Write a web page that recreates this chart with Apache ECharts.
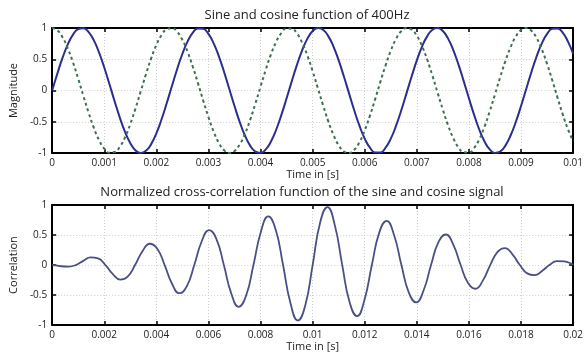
<!DOCTYPE html>
<html>
<head>
<meta charset="utf-8">
<script src="https://cdn.jsdelivr.net/npm/echarts@6/dist/echarts.min.js"></script>
<style>
  html, body { margin: 0; padding: 0; background: #fff; }
  #chart { width: 586px; height: 353px; }
</style>
</head>
<body>
<div id="chart"></div>
<script>
// time step of the sampled signals in the upper plot (s)
const sampleStep = 0.0001;

// sine signal
const sineValues = [
  0, 0.273, 0.525, 0.737, 0.894, 0.982, 0.996, 0.934, 0.802, 0.608,
  0.368, 0.100, -0.175, -0.437, -0.666, -0.844, -0.959, -1.000, -0.965, -0.858,
  -0.685, -0.460, -0.200, 0.075, 0.345, 0.588, 0.786, 0.925, 0.994, 0.987,
  0.905, 0.754, 0.546, 0.297, 0.025, -0.249, -0.504, -0.720, -0.882, -0.977,
  -0.998, -0.943, -0.816, -0.628, -0.391, -0.125, 0.150, 0.414, 0.647, 0.830,
  0.951, 0.999, 0.972, 0.870, 0.703, 0.482, 0.224, -0.050, -0.321, -0.567,
  -0.771, -0.915, -0.990, -0.990, -0.915, -0.771, -0.567, -0.321, -0.050, 0.224,
  0.482, 0.703, 0.870, 0.972, 0.999, 0.951, 0.830, 0.647, 0.414, 0.150,
  -0.125, -0.391, -0.628, -0.816, -0.943, -0.998, -0.977, -0.882, -0.720, -0.504,
  -0.249, 0.025, 0.297, 0.546, 0.754, 0.905, 0.987, 0.994, 0.925, 0.786,
  0.588
];

// cosine signal
const cosineValues = [
  1.000, 0.962, 0.851, 0.675, 0.448, 0.187, -0.088, -0.356, -0.598, -0.794,
  -0.930, -0.995, -0.985, -0.899, -0.746, -0.536, -0.285, -0.013, 0.261, 0.514,
  0.729, 0.888, 0.980, 0.997, 0.939, 0.809, 0.618, 0.380, 0.113, -0.163,
  -0.426, -0.657, -0.838, -0.955, -1.000, -0.969, -0.864, -0.694, -0.471, -0.212,
  0.063, 0.333, 0.578, 0.779, 0.920, 0.992, 0.989, 0.910, 0.762, 0.557,
  0.309, 0.038, -0.236, -0.493, -0.711, -0.876, -0.975, -0.999, -0.947, -0.824,
  -0.637, -0.403, -0.138, 0.138, 0.403, 0.637, 0.824, 0.947, 0.999, 0.975,
  0.876, 0.711, 0.493, 0.236, -0.038, -0.309, -0.557, -0.762, -0.910, -0.989,
  -0.992, -0.920, -0.779, -0.578, -0.333, -0.063, 0.212, 0.471, 0.694, 0.864,
  0.969, 1.000, 0.955, 0.838, 0.657, 0.426, 0.163, -0.113, -0.380, -0.618,
  -0.809
];

// cross-correlation
const corrTime = [
  0, 0.000057, 0.000341, 0.000625, 0.000909, 0.001193, 0.001477, 0.001761, 0.002045, 0.00233,
  0.002614, 0.002898, 0.003182, 0.003466, 0.00375, 0.004034, 0.004318, 0.004602, 0.004886, 0.00517,
  0.005455, 0.005739, 0.006023, 0.006307, 0.006591, 0.006875, 0.007159, 0.007443, 0.007727, 0.008011,
  0.008295, 0.00858, 0.008864, 0.009148, 0.009432, 0.009716, 0.01, 0.010284, 0.010568, 0.010852,
  0.011136, 0.01142, 0.011705, 0.011989, 0.012273, 0.012557, 0.012841, 0.013125, 0.013409, 0.013693,
  0.013977, 0.014261, 0.014545, 0.01483, 0.015114, 0.015398, 0.015682, 0.015966, 0.01625, 0.016534,
  0.016818, 0.017102, 0.017386, 0.01767, 0.017955, 0.018239, 0.018523, 0.018807, 0.019091, 0.019375,
  0.019659, 0.019943, 0.02
];
const corrValue = [
  0.01, 0.0, -0.02, -0.025, 0.0, 0.07, 0.128, 0.11, 0.0, -0.151,
  -0.242, -0.191, 0.0, 0.231, 0.355, 0.271, 0.0, -0.311, -0.469, -0.351,
  0.0, 0.392, 0.582, 0.432, 0.0, -0.472, -0.696, -0.512, 0.0, 0.552,
  0.809, 0.592, 0.0, -0.633, -0.923, -0.673, 0.0, 0.701, 0.963, 0.661,
  0.0, -0.621, -0.849, -0.58, 0.0, 0.54, 0.736, 0.5, 0.0, -0.46,
  -0.622, -0.42, 0.0, 0.38, 0.509, 0.34, 0.0, -0.299, -0.395, -0.259,
  0.0, 0.219, 0.282, 0.179, 0.0, -0.139, -0.168, -0.098, 0.0, 0.065,
  0.06, 0.02, 0.0
];

const yTicks = { min: -1, max: 1, interval: 0.5 };

const sineData = sineValues.map((v, i) => [i * sampleStep, v]);
const cosineData = cosineValues.map((v, i) => [i * sampleStep, v]);
const corrData = corrTime.map((t, i) => [t, corrValue[i]]);

const font = 'Open Sans';
const frameLine = { show: true, onZero: false, lineStyle: { color: '#000', width: 2 } };
const innerTick = { show: true, inside: true, length: 4, lineStyle: { color: '#000', width: 1.5 } };
const dotted = { show: true, lineStyle: { type: [1, 2], color: '#cfcfcf', width: 1 } };
const tickLabel = { color: '#222', fontSize: 10, fontFamily: font, margin: 5 };
const nameText = { color: '#222', fontSize: 11, fontFamily: font };

function bottomAxis(grid, max, interval) {
  return {
    gridIndex: grid, type: 'value', min: 0, max: max, interval: interval,
    axisLine: frameLine, axisTick: innerTick, splitLine: dotted,
    axisLabel: tickLabel,
    name: 'Time in [s]', nameLocation: 'middle', nameGap: 13, nameTextStyle: nameText
  };
}
function topAxis(grid, max, interval) {
  return {
    gridIndex: grid, type: 'value', position: 'top', min: 0, max: max, interval: interval,
    axisLine: frameLine, axisTick: innerTick, splitLine: { show: false },
    axisLabel: { show: false }
  };
}
function leftAxis(grid, name) {
  return {
    gridIndex: grid, type: 'value', min: yTicks.min, max: yTicks.max, interval: yTicks.interval,
    axisLine: frameLine, axisTick: innerTick, splitLine: dotted,
    axisLabel: tickLabel,
    name: name, nameLocation: 'middle', nameGap: 26, nameRotate: 90, nameTextStyle: nameText
  };
}
function rightAxis(grid) {
  return {
    gridIndex: grid, type: 'value', position: 'right',
    min: yTicks.min, max: yTicks.max, interval: yTicks.interval,
    axisLine: frameLine, axisTick: innerTick, splitLine: { show: false },
    axisLabel: { show: false }
  };
}

const option = {
  backgroundColor: '#fff',
  animation: false,
  title: [
    {
      text: 'Sine and cosine function of 400Hz', left: 302, top: 4, textAlign: 'center',
      textStyle: { fontSize: 13, fontWeight: 'normal', color: '#222', fontFamily: font }
    },
    {
      text: 'Normalized cross-correlation function of the sine and cosine signal',
      left: 297, top: 181, textAlign: 'center',
      textStyle: { fontSize: 13, fontWeight: 'normal', color: '#222', fontFamily: font }
    }
  ],
  grid: [
    { left: 45, top: 28, width: 531, height: 125 },
    { left: 45, top: 205, width: 531, height: 124 }
  ],
  xAxis: [
    bottomAxis(0, 0.01, 0.001),
    topAxis(0, 0.01, 0.001),
    bottomAxis(1, 0.02, 0.002),
    topAxis(1, 0.02, 0.002)
  ],
  yAxis: [
    leftAxis(0, 'Magnitude'),
    rightAxis(0),
    leftAxis(1, 'Correlation'),
    rightAxis(1)
  ],
  series: [
    {
      name: 'sine', type: 'line', xAxisIndex: 0, yAxisIndex: 0,
      data: sineData, smooth: true, showSymbol: false,
      lineStyle: { color: '#2b2e8e', width: 2 }
    },
    {
      name: 'cosine', type: 'line', xAxisIndex: 0, yAxisIndex: 0,
      data: cosineData, smooth: true, showSymbol: false,
      lineStyle: { color: '#3f6f4f', width: 2, type: [3, 3] }
    },
    {
      name: 'correlation', type: 'line', xAxisIndex: 2, yAxisIndex: 2,
      data: corrData, smooth: true, showSymbol: false,
      lineStyle: { color: '#4a5084', width: 1.8 }
    }
  ]
};

const myChart = echarts.init(document.getElementById('chart'));
myChart.setOption(option);
window.onresize = function () {
  myChart.resize();
};
</script>
</body>
</html>
